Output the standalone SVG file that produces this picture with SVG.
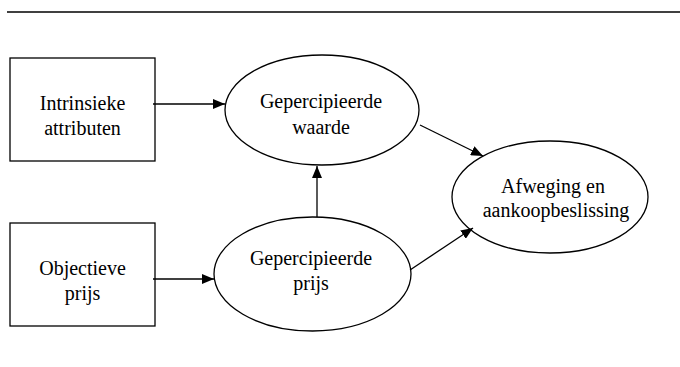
<svg xmlns="http://www.w3.org/2000/svg" width="680" height="367" viewBox="0 0 680 367">
<defs>
<style>
.shape{fill:#fff;stroke:#000;stroke-width:1.3}
.lbl{font-family:"Liberation Serif","Times New Roman",serif;font-size:20px;fill:#000;text-anchor:middle}
.conn{stroke:#000;stroke-width:1.3;fill:none;marker-end:url(#ah)}
</style>
<marker id="ah" viewBox="0 0 12 10" refX="12" refY="5" markerWidth="12" markerHeight="10" markerUnits="userSpaceOnUse" orient="auto">
<path d="M0,0 L12,5 L0,10 Z" fill="#000"/>
</marker>
</defs>
<rect width="680" height="367" fill="#fff"/>
<line x1="7" y1="12" x2="680" y2="12" stroke="#000" stroke-width="1.6"/>
<g id="intrinsieke">
<rect class="shape" x="10" y="58" width="145" height="103"/>
<text class="lbl" x="82.5" y="110">Intrinsieke</text>
<text class="lbl" x="82.5" y="135">attributen</text>
</g>
<g id="objectieve">
<rect class="shape" x="10" y="223" width="145" height="103"/>
<text class="lbl" x="82.5" y="275">Objectieve</text>
<text class="lbl" x="82.5" y="300">prijs</text>
</g>
<g id="waarde">
<ellipse class="shape" cx="322" cy="110" rx="97" ry="55"/>
<text class="lbl" x="321" y="108">Gepercipieerde</text>
<text class="lbl" x="321" y="134">waarde</text>
</g>
<g id="prijs">
<ellipse class="shape" cx="312.5" cy="274" rx="98.5" ry="57"/>
<text class="lbl" x="311" y="265">Gepercipieerde</text>
<text class="lbl" x="311" y="290">prijs</text>
</g>
<g id="afweging">
<ellipse class="shape" cx="550" cy="197" rx="98" ry="56"/>
<text class="lbl" x="553" y="193">Afweging en</text>
<text class="lbl" x="556" y="217">aankoopbeslissing</text>
</g>
<g id="connectors">
<line class="conn" x1="153" y1="104" x2="225" y2="104"/>
<line class="conn" x1="153" y1="279" x2="214" y2="279"/>
<line class="conn" x1="317" y1="217" x2="317" y2="166"/>
<line class="conn" x1="420" y1="125" x2="483" y2="156"/>
<line class="conn" x1="410" y1="270" x2="473" y2="228"/>
</g>
</svg>
